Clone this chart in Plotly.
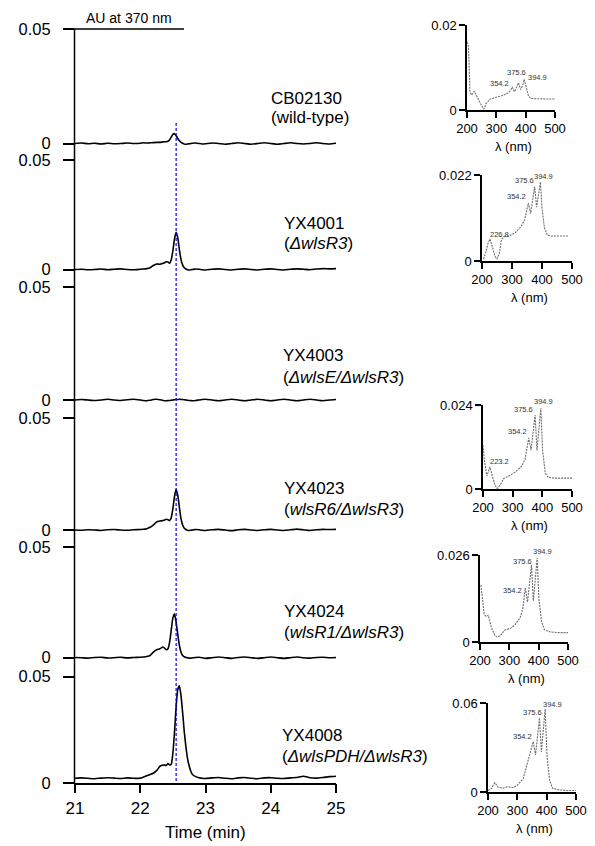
import plotly.graph_objects as go

W, H = 595, 846
FONT = "Arial, Liberation Sans, sans-serif"


def fx(px):
    return px / W


def fy(py):
    return 1 - py / H


# ---- HPLC traces (absorbance at 370 nm, mAU) ----
time_min = [21.0, 21.1, 21.2, 21.3, 21.4, 21.5, 21.6, 21.7, 21.8, 21.9, 22.0,
            22.05, 22.1, 22.15, 22.2, 22.25, 22.3, 22.35,
            22.4, 22.425, 22.45, 22.475, 22.5, 22.525, 22.55, 22.575, 22.6,
            22.625, 22.65, 22.675, 22.7, 22.725, 22.75, 22.775, 22.8,
            22.85, 22.9, 22.95,
            23.0, 23.1, 23.2, 23.3, 23.4, 23.5, 23.6, 23.7, 23.8, 23.9, 24.0,
            24.1, 24.2, 24.3, 24.4, 24.5, 24.6, 24.7, 24.8, 24.9, 25.0]

cb02130 = [0.0, 0.2, -0.1, 0.1, -0.2, 0.1, -0.1, 0.0, 0.2, 0.0, 0.1,
           0.3, 0.2, 0.3, 0.4, 0.5, 0.5, 0.7,
           0.8, 1.0, 1.6, 2.8, 4.0, 4.3, 3.4, 2.2, 1.2,
           0.5, 0.1, -0.2, -0.3, -0.2, -0.1, 0.0, 0.1,
           0.2, 0.0, -0.2,
           -0.1, 0.2, 0.0, -0.3, 0.0, 0.3, 0.0, -0.3, 0.0, 0.3, 0.0,
           -0.3, 0.0, 0.3, 0.0, -0.2, 0.0, 0.3, 0.0, -0.2, 0.1]

yx4001 = [0.0, 0.1, -0.1, 0.0, 0.2, -0.1, 0.1, 0.3, 0.0, -0.1, 0.1,
          0.2, 0.4, 0.8, 1.8, 2.5, 2.4, 2.8,
          3.5, 3.4, 2.9, 4.5, 8.5, 14.0, 17.0, 14.5, 9.0,
          4.5, 2.0, 0.8, 0.2, -0.1, -0.2, -0.1, 0.0,
          0.2, 0.1, -0.1,
          -0.2, 0.1, 0.3, 0.0, -0.2, 0.1, 0.3, 0.0, -0.2, 0.1, 0.3,
          0.0, -0.2, 0.1, 0.3, 0.1, -0.1, 0.2, 0.4, 0.3, 0.4]

yx4003 = [0.0, 0.2, 0.0, -0.2, 0.0, 0.3, 0.0, -0.2, 0.1, 0.3, 0.0,
          -0.2, -0.3, -0.1, 0.2, 0.3, 0.1, -0.2,
          -0.3, -0.25, -0.2, -0.1, 0.0, 0.1, 0.2, 0.25, 0.3,
          0.25, 0.2, 0.1, 0.0, -0.1, -0.2, -0.25, -0.3,
          -0.2, 0.0, 0.2,
          0.3, 0.0, -0.3, 0.0, 0.3, 0.0, -0.3, 0.0, 0.3, 0.0, -0.3,
          0.0, 0.3, 0.0, -0.3, 0.0, 0.3, 0.0, -0.3, 0.0, 0.2]

yx4023 = [0.0, -0.1, 0.1, 0.0, -0.2, 0.1, 0.2, 0.0, -0.1, 0.1, 0.2,
          0.3, 0.6, 1.2, 2.2, 3.6, 4.0, 4.2,
          4.8, 4.6, 4.2, 5.5, 9.5, 15.0, 18.2, 15.5, 10.0,
          5.0, 2.2, 0.8, 0.2, -0.1, -0.2, -0.1, 0.0,
          0.2, 0.1, -0.1,
          -0.2, 0.1, 0.3, 0.0, -0.3, 0.1, 0.3, 0.0, -0.2, 0.1, 0.3,
          0.0, -0.2, 0.1, 0.4, 0.1, -0.2, 0.1, 0.3, 0.2, 0.3]

yx4024 = [0.1, 0.0, -0.2, 0.1, 0.2, -0.1, 0.0, 0.2, -0.1, 0.1, 0.2,
          0.3, 0.5, 1.0, 2.5, 3.6, 4.0, 4.8,
          3.6, 4.0, 7.0, 12.5, 18.0, 19.7, 16.0, 10.5, 5.5,
          2.5, 1.0, 0.4, 0.1, 0.0, -0.2, -0.2, -0.1,
          0.1, 0.2, 0.0,
          -0.3, 0.0, 0.3, 0.0, -0.3, 0.1, 0.3, 0.0, -0.3, 0.0, 0.3,
          0.0, -0.3, 0.0, 0.3, 0.0, -0.2, 0.1, 0.2, 0.0, 0.1]

yx4008 = [2.2, 2.4, 2.2, 2.0, 2.3, 2.5, 2.3, 2.1, 2.4, 2.2, 2.3,
          2.8, 3.4, 4.0, 4.6, 5.8, 7.8, 8.5,
          8.3, 9.2, 8.5, 8.8, 14.0, 24.0, 36.0, 44.0, 45.7,
          41.0, 33.0, 24.0, 17.0, 11.5, 8.0, 5.5, 4.0,
          3.0, 2.5, 2.2,
          2.1, 2.4, 2.6, 2.2, 2.0, 2.4, 2.6, 2.2, 2.0, 2.4, 2.5,
          2.2, 2.1, 2.4, 2.6, 3.2, 2.5, 2.3, 2.6, 3.0, 3.2]

strain_names = ["CB02130", "YX4001", "YX4003", "YX4023", "YX4024", "YX4008"]
genotypes = ["(wild-type)", "(<i>ΔwlsR3</i>)", "(<i>ΔwlsE/ΔwlsR3</i>)",
             "(<i>wlsR6/ΔwlsR3</i>)", "(<i>wlsR1/ΔwlsR3</i>)",
             "(<i>ΔwlsPDH/ΔwlsR3</i>)"]
traces_mau = [cb02130, yx4001, yx4003, yx4023, yx4024, yx4008]

# ---- UV-vis spectra of the 22.55 min peak ----
wl_cb02130 = [200, 205, 210, 215, 225, 235, 250, 258, 265, 280, 300, 320, 340,
              348, 354.2, 362, 370, 375.6, 383, 390, 394.9, 402, 410, 420,
              440, 470, 500]
ab_cb02130 = [0.0160, 0.0150, 0.0045, 0.0035, 0.0044, 0.0030, 0.0010, 0.0002,
              0.0015, 0.0026, 0.0030, 0.0034, 0.0040, 0.0046, 0.0054, 0.0043,
              0.0055, 0.0064, 0.0048, 0.0058, 0.0072, 0.0050, 0.0032, 0.0027,
              0.0026, 0.0026, 0.0026]

wl_yx4001 = [205, 212, 220, 226.8, 235, 243, 250, 258, 265, 275, 290, 310, 330,
             342, 348, 354.2, 362, 370, 375.6, 382, 388, 394.9, 400, 408, 418,
             430, 460, 490]
ab_yx4001 = [0.0005, 0.0020, 0.0045, 0.0056, 0.0035, 0.0012, 0.0005, 0.0020,
             0.0055, 0.0062, 0.0064, 0.0072, 0.0088, 0.0105, 0.0125, 0.0148,
             0.0122, 0.0160, 0.0190, 0.0138, 0.0170, 0.0202, 0.0136, 0.0085,
             0.0066, 0.0064, 0.0064, 0.0064]

wl_yx4023 = [200, 205, 213, 223.2, 232, 240, 248, 258, 270, 285, 310, 330, 342,
             348, 354.2, 362, 370, 375.6, 382, 389, 394.9, 401, 410, 420, 440,
             470, 500]
ab_yx4023 = [0.0125, 0.0080, 0.0037, 0.0063, 0.0035, 0.0012, 0.0001, 0.0012,
             0.0030, 0.0036, 0.0049, 0.0065, 0.0085, 0.0115, 0.0146, 0.0111,
             0.0170, 0.0211, 0.0110, 0.0190, 0.0231, 0.0110, 0.0045, 0.0033,
             0.0031, 0.0031, 0.0031]

wl_yx4024 = [203, 208, 214, 220, 228, 238, 250, 258, 268, 285, 302, 320, 338,
             346, 354.2, 362, 370, 375.6, 382, 389, 394.9, 401, 410, 420, 440,
             470, 500]
ab_yx4024 = [0.0170, 0.0120, 0.0085, 0.0076, 0.0080, 0.0046, 0.0020, 0.0015,
             0.0018, 0.0036, 0.0040, 0.0052, 0.0075, 0.0100, 0.0161, 0.0120,
             0.0180, 0.0230, 0.0123, 0.0200, 0.0251, 0.0126, 0.0060, 0.0036,
             0.0030, 0.0028, 0.0028]

wl_yx4008 = [200, 212, 223, 234, 250, 268, 285, 300, 320, 338, 346, 354.2, 362,
             370, 375.6, 382, 389, 394.9, 401, 410, 420, 440, 470, 500]
ab_yx4008 = [0.0010, 0.0024, 0.0063, 0.0034, 0.0025, 0.0036, 0.0030, 0.0045,
             0.0090, 0.0216, 0.0280, 0.0340, 0.0250, 0.0400, 0.0500, 0.0270,
             0.0450, 0.0560, 0.0250, 0.0080, 0.0025, 0.0015, 0.0010, 0.0010]

spectra = [
    (wl_cb02130, ab_cb02130, 0.02, "0.02", [354.2, 375.6, 394.9], None),
    (wl_yx4001, ab_yx4001, 0.022, "0.022", [354.2, 375.6, 394.9], 226.8),
    (wl_yx4023, ab_yx4023, 0.024, "0.024", [354.2, 375.6, 394.9], 223.2),
    (wl_yx4024, ab_yx4024, 0.026, "0.026", [354.2, 375.6, 394.9], None),
    (wl_yx4008, ab_yx4008, 0.06, "0.06", [354.2, 375.6, 394.9], None),
]

# ---- layout geometry (pixels) ----
panel_px = [(29, 143.5), (160, 269.5), (287, 400), (418, 530),
            (547, 657.7), (676.7, 783)]          # (0.05 level, 0 level)
label_px = [(269, 98, 117), (282, 223, 243), (281, 355, 377),
            (282, 488, 509), (282, 611, 632), (280, 735, 756)]
inset_px = [(467, 555, 25, 110), (482, 572, 175, 261), (483, 572, 405, 489),
            (480, 568, 555, 642), (488, 576, 703, 792)]
# peak-label placement per inset: (xanchor, xshift, yshift) for each band
peak_label_pos = [
    [("right", -1, 4), ("center", -2, 10), ("left", 2, 2)],
    [("right", 0, 7), ("right", 1, 6), ("center", 3, 6)],
    [("right", 0, 6), ("right", 0, 6), ("center", 3, 7)],
    [("right", -1, -2), ("right", 2, 4), ("center", 5, 7)],
    [("right", 1, 5), ("right", 4, 5), ("center", 7, 4)],
]
X0, X1 = 75, 336
PEAK_T = 22.55


def paper_text(text, px, py, size, xanchor="center"):
    return dict(text=text, x=fx(px), y=fy(py), xref="paper", yref="paper",
                xanchor=xanchor, yanchor="middle", showarrow=False,
                font=dict(size=size))


fig = go.Figure()
layout = dict(
    width=W, height=H, margin=dict(l=0, r=0, t=0, b=0),
    paper_bgcolor="white", plot_bgcolor="rgba(0,0,0,0)",
    showlegend=False, font=dict(family=FONT, color="black"),
)

layout["xaxis"] = dict(
    domain=[fx(X0), fx(X1)], range=[21, 25], anchor="free",
    position=fy(783.5), showline=True, linecolor="black", linewidth=1.5,
    ticks="outside", ticklen=9, tickwidth=1.5, tickcolor="black",
    tickvals=[21, 22, 23, 24, 25], tickfont=dict(size=17),
    showgrid=False, zeroline=False, automargin=False,
)

annotations = []
shapes = []
pad = 6
for i, ((p05, p0), vals) in enumerate(zip(panel_px, traces_mau)):
    scale = 0.05 / (p0 - p05)
    name = "yaxis" if i == 0 else f"yaxis{i + 1}"
    layout[name] = dict(
        domain=[fy(p0 + pad), fy(p05)], range=[-pad * scale, 0.05],
        anchor="x", showline=False, showgrid=False, zeroline=False,
        ticks="outside", ticklen=11, tickwidth=1.5, tickcolor="black",
        tickvals=[0, 0.05], ticktext=["0", "0.05"], tickfont=dict(size=16.5),
        ticklabelstandoff=9, automargin=False,
    )
    fig.add_trace(go.Scatter(
        x=time_min, y=[v / 1000 for v in vals], mode="lines",
        line=dict(color="black", width=1.6, shape="spline", smoothing=0.5),
        xaxis="x", yaxis="y" if i == 0 else f"y{i + 1}", hoverinfo="skip",
    ))
    lx, ly1, ly2 = label_px[i]
    annotations.append(paper_text(strain_names[i], lx, ly1, 17, "left"))
    annotations.append(paper_text(genotypes[i], lx, ly2, 17, "left"))

# continuous left axis, top scale bar and retention-time marker
shapes.append(dict(type="line", xref="paper", yref="paper",
                   x0=fx(74.5), x1=fx(74.5), y0=fy(29), y1=fy(784),
                   line=dict(color="black", width=1.5)))
shapes.append(dict(type="line", xref="paper", yref="paper",
                   x0=fx(63), x1=fx(184), y0=fy(29), y1=fy(29),
                   line=dict(color="black", width=1.5)))
shapes.append(dict(type="line", xref="x", yref="paper",
                   x0=PEAK_T, x1=PEAK_T, y0=fy(123), y1=fy(783),
                   line=dict(color="#0000ff", width=1.2, dash="3px,2px")))
annotations.append(paper_text("AU at 370 nm", 129, 18, 14))
annotations.append(paper_text("Time (min)", 205, 832, 17))

# spectrum insets
for k, ((wl, ab, ymax, ylab, peaks, uvpeak), (ix0, ix1, itop, ibot)) in \
        enumerate(zip(spectra, inset_px)):
    xa = f"xaxis{k + 2}"
    ya = f"yaxis{k + 7}"
    layout[xa] = dict(
        domain=[fx(ix0), fx(ix1)], range=[200, 500], anchor=f"y{k + 7}",
        showline=True, linecolor="black", linewidth=1.5,
        ticks="outside", ticklen=6, tickwidth=1.5, tickcolor="black",
        tickvals=[200, 300, 400, 500], tickfont=dict(size=13),
        showgrid=False, zeroline=False, automargin=False,
    )
    layout[ya] = dict(
        domain=[fy(ibot), fy(itop)], range=[0, ymax], anchor=f"x{k + 2}",
        showline=True, linecolor="black", linewidth=1.5,
        ticks="outside", ticklen=6, tickwidth=1.5, tickcolor="black",
        tickvals=[0, ymax], ticktext=["0", ylab], tickfont=dict(size=13),
        showgrid=False, zeroline=False, automargin=False,
    )
    fig.add_trace(go.Scatter(
        x=wl, y=ab, mode="lines", xaxis=f"x{k + 2}", yaxis=f"y{k + 7}",
        line=dict(color="#6e6e6e", width=1.1, dash="2px,1px"),
        hoverinfo="skip", cliponaxis=False,
    ))
    annotations.append(paper_text("λ (nm)", (ix0 + ix1) / 2 + 2,
                                  ibot + 36, 13))
    for wlp, (anc, xs, ys) in zip(peaks, peak_label_pos[k]):
        yv = ab[wl.index(wlp)]
        annotations.append(dict(
            text=f"{wlp}", x=wlp, y=yv, xref=f"x{k + 2}", yref=f"y{k + 7}",
            xanchor=anc, yanchor="middle", xshift=xs, yshift=ys,
            showarrow=False, font=dict(size=7.5, color="#333333")))
    if uvpeak is not None:
        yv = ab[wl.index(uvpeak)]
        annotations.append(dict(
            text=f"{uvpeak}", x=uvpeak, y=yv, xref=f"x{k + 2}",
            yref=f"y{k + 7}", xanchor="left", yanchor="middle", xshift=-2,
            yshift=5, showarrow=False,
            font=dict(size=7.5, color="#333333")))

layout["annotations"] = annotations
layout["shapes"] = shapes
fig.update_layout(**layout)
fig.write_html("out.html")
